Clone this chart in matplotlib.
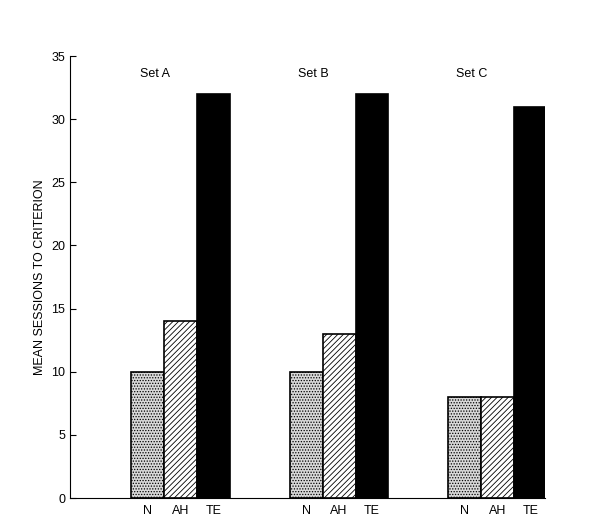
import matplotlib
matplotlib.use("Agg")
import matplotlib.pyplot as plt
import numpy as np

plt.rcParams['font.family'] = ['Liberation Sans', 'DejaVu Sans']
plt.rcParams['hatch.linewidth'] = 0.6

sets = ["Set A", "Set B", "Set C"]
conditions = ["N", "AH", "TE"]
values = {
    "N": [10, 10, 8],
    "AH": [14, 13, 8],
    "TE": [32, 32, 31],
}
yticks = [0, 5, 10, 15, 20, 25, 30, 35]

fig = plt.figure(figsize=(5.9, 5.29), dpi=100)
ax = fig.add_axes([0.119, 0.0586, 0.805, 0.8355])

group_start = 1.85 + 4.8 * np.arange(len(sets))
styles = {
    "N": dict(facecolor="#d8d8d8", hatch="......", edgecolor="black"),
    "AH": dict(facecolor="white", hatch="//////", edgecolor="black"),
    "TE": dict(facecolor="black", edgecolor="black"),
}
xt, xl = [], []
for j, c in enumerate(conditions):
    x = group_start + j + 0.5
    ax.bar(x, values[c], width=1.0, linewidth=1.2, **styles[c])
    xt += list(x)
    xl += [c] * len(sets)

for g, s in zip(group_start, sets):
    ax.text(g + 0.73, 33.6, s, ha="center", va="center", fontsize=9)

ax.set_xlim(0, 14.4)
ax.set_ylim(0, 35)
ax.set_yticks(yticks)
ax.set_xticks(xt)
ax.set_xticklabels(xl, fontsize=9)
ax.tick_params(axis="x", length=0, pad=5)
ax.tick_params(axis="y", direction="in", length=4, labelsize=9)
ax.spines["top"].set_visible(False)
ax.spines["right"].set_visible(False)
ax.set_ylabel("MEAN SESSIONS TO CRITERION", fontsize=9)
fig.savefig("out.png", dpi=100)
